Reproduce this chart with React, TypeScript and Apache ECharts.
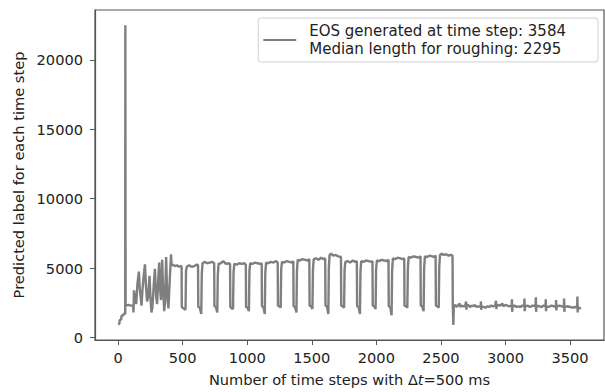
import React, { useEffect, useRef } from "react";
import * as echarts from "echarts";

const xTicks = [0, 500, 1000, 1500, 2000, 2500, 3000, 3500];
const yTicks = [0, 5000, 10000, 15000, 20000];
const legendName = "EOS generated at time step: 3584\nMedian length for roughing: 2295";

// start-up phase: [time step, predicted label]
const startupPoints: number[][] = [
  [0, 950], [10, 1000], [12, 1250], [24, 1300], [26, 1550], [40, 1600], [42, 1700], [55, 1700],
  [56, 22500], [58, 2300], [80, 2350], [100, 2300], [116, 2300], [119, 1800], [123, 3400],
  [129, 2800], [134, 3200], [140, 2400], [150, 3900], [161, 4750], [168, 3500], [175, 2900],
  [181, 2300], [190, 3600], [200, 4600], [208, 5270], [215, 3800], [224, 2600], [233, 2900],
  [243, 4450], [251, 2800], [258, 1800], [266, 2200], [276, 3800], [285, 4950], [294, 3000],
  [302, 2400], [311, 4200], [318, 5400], [325, 3500], [332, 2700], [341, 5600], [348, 3600],
  [357, 1900], [363, 2500], [372, 5800], [380, 3000], [390, 2100], [399, 4000], [410, 6000],
  [414, 5200], [425, 5250], [440, 5150], [455, 5200], [470, 5100], [485, 5150], [492, 5100],
];

// periodic roughing phase
const cyclePoints: number[][] = [
  [493, 2200], [505, 2100], [515, 2050], [522, 2000], [526, 4800], [532, 5100], [550, 5200], [570, 5100], [590, 5150], [610, 5250], [619, 5200],
  [621, 2200], [632, 2150], [644, 1700], [648, 4600], [654, 5350], [670, 5450], [690, 5350], [710, 5400], [730, 5450], [744, 5350],
  [746, 2250], [757, 2200], [768, 1800], [772, 4500], [778, 5300], [795, 5350], [815, 5500], [835, 5300], [855, 5350], [867, 5300],
  [869, 2200], [880, 2100], [890, 2050], [894, 4700], [900, 5300], [918, 5250], [938, 5350], [958, 5300], [978, 5350], [989, 5250],
  [991, 2200], [1002, 2150], [1013, 1900], [1017, 4800], [1023, 5350], [1040, 5300], [1060, 5400], [1080, 5350], [1100, 5300], [1112, 5350],
  [1114, 2250], [1125, 2200], [1136, 1700], [1140, 4700], [1146, 5400], [1163, 5350], [1183, 5450], [1203, 5400], [1223, 5500], [1236, 5400],
  [1238, 2300], [1249, 2250], [1259, 2150], [1263, 4900], [1269, 5450], [1286, 5400], [1306, 5500], [1326, 5450], [1346, 5400], [1357, 5500],
  [1359, 2250], [1370, 2200], [1381, 1800], [1385, 4800], [1391, 5600], [1408, 5550], [1428, 5650], [1448, 5600], [1468, 5550], [1481, 5650],
  [1483, 2300], [1494, 2250], [1505, 2050], [1509, 4900], [1515, 5650], [1532, 5700], [1552, 5600], [1572, 5750], [1592, 5650], [1604, 5700],
  [1606, 2300], [1617, 2250], [1628, 1700], [1632, 5000], [1638, 5950], [1650, 6050], [1665, 5900], [1685, 5950], [1705, 5850], [1726, 5800],
  [1728, 2300], [1739, 2250], [1750, 2150], [1754, 4900], [1760, 5450], [1777, 5500], [1797, 5400], [1817, 5550], [1837, 5450], [1849, 5500],
  [1851, 2250], [1862, 2200], [1873, 1700], [1877, 4800], [1883, 5500], [1900, 5450], [1920, 5550], [1940, 5500], [1960, 5450], [1970, 5500],
  [1972, 2300], [1983, 2250], [1994, 2050], [1998, 4900], [2004, 5550], [2021, 5500], [2041, 5600], [2061, 5550], [2081, 5500], [2094, 5600],
  [2096, 2250], [2107, 2200], [2118, 1600], [2122, 4800], [2128, 5700], [2145, 5650], [2165, 5750], [2185, 5700], [2205, 5650], [2216, 5700],
  [2218, 2300], [2229, 2250], [2240, 2150], [2244, 5000], [2250, 5800], [2267, 5750], [2287, 5850], [2307, 5800], [2327, 5750], [2342, 5850],
  [2344, 2300], [2355, 2250], [2366, 1900], [2370, 5000], [2376, 5850], [2393, 5800], [2413, 5900], [2433, 5850], [2450, 5800], [2459, 5900],
  [2461, 2300], [2472, 2250], [2483, 2150], [2487, 5100], [2493, 5950], [2505, 6050], [2520, 5950], [2540, 6000], [2560, 5900], [2575, 5950], [2590, 5900],
];

// finishing phase
const tailPoints: number[][] = [
  [2592, 2300], [2596, 900], [2600, 2250], [2612, 2350], [2620, 2200], [2632, 2300], [2645, 2450],
  [2650, 2200], [2662, 2300], [2675, 2250], [2688, 2300], [2695, 2600], [2697, 2000], [2700, 2300],
  [2712, 2350], [2725, 2200], [2738, 2300], [2750, 2250], [2762, 2350], [2775, 2200], [2790, 2250],
  [2808, 2200], [2810, 2600], [2812, 2000], [2815, 2250], [2830, 2200], [2845, 2150], [2860, 2250],
  [2875, 2200], [2890, 2300], [2905, 2250], [2920, 2300], [2927, 2650], [2929, 2050], [2932, 2250],
  [2945, 2350], [2960, 2300], [2975, 2450], [2985, 2250], [3000, 2350], [3015, 2300],
  [3030, 2250], [3048, 2300], [3050, 2750], [3052, 1850], [3055, 2250], [3070, 2300], [3085, 2200],
  [3100, 2250], [3115, 2200], [3130, 2300], [3145, 2250], [3147, 2800], [3149, 1900], [3152, 2250],
  [3170, 2300], [3190, 2200], [3210, 2300], [3233, 2250], [3235, 2900], [3237, 1850], [3240, 2300],
  [3260, 2250], [3280, 2200], [3295, 2300], [3310, 2250], [3312, 2750], [3314, 1900], [3317, 2250],
  [3335, 2200], [3355, 2300], [3375, 2250], [3390, 2200], [3392, 2700], [3394, 1950], [3397, 2250],
  [3415, 2300], [3435, 2250], [3452, 2200], [3454, 2800], [3456, 1850], [3459, 2200], [3480, 2250],
  [3500, 2200], [3520, 2150], [3540, 2200], [3555, 2150], [3557, 2950], [3559, 1800], [3562, 2200],
  [3575, 2100], [3584, 2150],
];

const FONT = "DejaVu Sans";
const TEXT = "#222";
const SPINE = "#555";
const LINE = "#7f7f7f";
const FS = 14.6;

export default function App() {
  const ref = useRef<HTMLDivElement>(null);
  useEffect(() => {
    document.body.style.margin = "0";
    const chart = echarts.init(ref.current!, null, { renderer: "svg" });
    const data = [...startupPoints, ...cyclePoints, ...tailPoints];
    chart.setOption({
      animation: false,
      textStyle: { fontFamily: FONT },
      grid: {
        left: 95, right: 1, top: 10, bottom: 50,
        show: true, borderColor: SPINE, borderWidth: 1.2, backgroundColor: "transparent",
      },
      legend: {
        data: [legendName],
        right: 7, top: 18,
        orient: "vertical",
        padding: [4, 32, 4, 5],
        borderColor: "#d0d0d0", borderWidth: 1, borderRadius: 3,
        backgroundColor: "#fff",
        icon: "rect",
        itemWidth: 33, itemHeight: 2,
        itemStyle: { color: LINE },
        textStyle: { fontFamily: FONT, fontSize: 15, lineHeight: 18, color: TEXT, padding: [0, 0, 0, 8] },
      },
      xAxis: {
        type: "value", min: -179, max: 3763,
        name: "Number of time steps with Δ{i|t}=500 ms",
        nameLocation: "middle", nameGap: 32,
        nameTextStyle: {
          fontFamily: FONT, fontSize: FS, color: TEXT,
          rich: { i: { fontStyle: "italic", fontFamily: FONT, fontSize: FS, color: TEXT } },
        },
        axisLine: { show: true, onZero: false, lineStyle: { color: SPINE, width: 1.2 } },
        axisTick: { show: true, inside: false, length: 5, customValues: xTicks, lineStyle: { color: SPINE } },
        axisLabel: {
          customValues: xTicks, margin: 10, fontSize: FS, color: TEXT, fontFamily: FONT,
          formatter: (v: number) => String(v),
        },
        splitLine: { show: false },
      },
      yAxis: {
        type: "value", min: -180, max: 23600,
        name: "Predicted label for each time step",
        nameLocation: "middle", nameGap: 58,
        nameTextStyle: { fontFamily: FONT, fontSize: FS, color: TEXT },
        axisLine: { show: true, onZero: false, lineStyle: { color: SPINE, width: 1.2 } },
        axisTick: { show: true, inside: false, length: 5, customValues: yTicks, lineStyle: { color: SPINE } },
        axisLabel: {
          customValues: yTicks, margin: 12, fontSize: FS, color: TEXT, fontFamily: FONT,
          formatter: (v: number) => String(v),
        },
        splitLine: { show: false },
      },
      series: [
        {
          name: legendName,
          type: "line",
          data,
          symbol: "none",
          lineStyle: { color: LINE, width: 2.4 },
          itemStyle: { color: LINE },
        },
      ],
    });
    return () => chart.dispose();
  }, []);
  return <div ref={ref} style={{ width: 605, height: 392 }} />;
}
